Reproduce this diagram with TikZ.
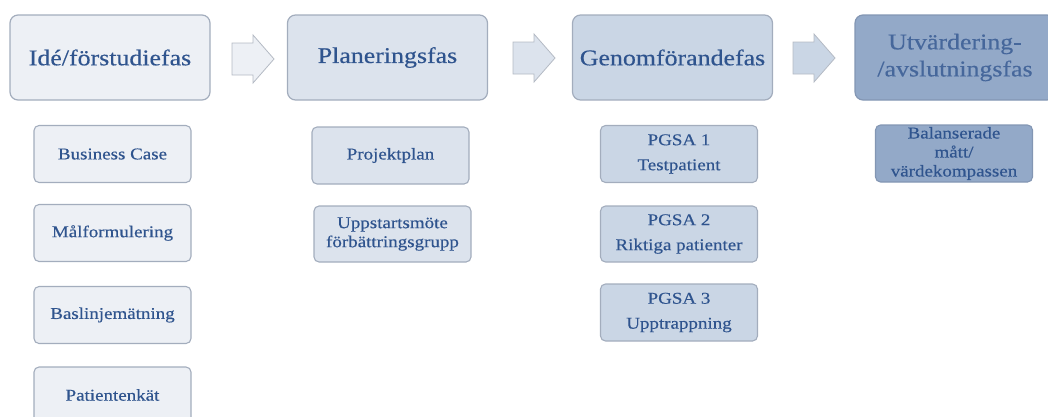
\documentclass[tikz,border=0pt]{standalone}
\usepackage{fontspec}
\setmainfont{Liberation Serif}[FakeStretch=1.15,FakeBold=0.4]
\definecolor{fillA}{HTML}{EDF0F5}
\definecolor{fillB}{HTML}{DCE3ED}
\definecolor{fillC}{HTML}{CAD6E5}
\definecolor{fillD}{HTML}{93A9C8}
\definecolor{edgeC}{HTML}{A3ADBD}
\definecolor{edgeD}{HTML}{8396B3}
\definecolor{txt}{HTML}{2F548E}
\definecolor{txtD}{HTML}{46679B}
\definecolor{arrowedge}{HTML}{B4BAC4}
\begin{document}
\begin{tikzpicture}[x=1pt,y=-1pt,
  mainbox/.style={draw=edgeC, line width=1.2pt, rounded corners=8pt, minimum width=200pt, minimum height=85pt,
    inner sep=0pt, outer sep=0pt, align=center, text=txt, font=\fontsize{22.5}{27}\selectfont},
  subbox/.style={draw=edgeC, line width=1.1pt, rounded corners=5pt, minimum width=157pt, minimum height=57pt,
    inner sep=0pt, outer sep=0pt, align=center, text=txt, font=\fontsize{16.5}{19}\selectfont},
  blockarrow/.style={draw=arrowedge, line width=0.8pt, line join=miter}
]
\useasboundingbox (0,0) rectangle (1048,416);
% main phases
\node[mainbox, fill=fillA] (b1) at (110,57.5) {Idé/förstudiefas};
\node[mainbox, fill=fillB] (b2) at (387.5,57.5) {Planeringsfas};
\node[mainbox, fill=fillC] (b3) at (672.5,57.5) {Genomförandefas};
\node[mainbox, fill=fillD, draw=edgeD, text=txtD] (b4) at (955,57.5) {Utvärdering-\\/avslutningsfas};
% block arrows
\coordinate (a1) at (232,59);
\coordinate (a2) at (513,58);
\coordinate (a3) at (793,58);
\foreach \a/\f in {a1/fillA, a2/fillB, a3/fillC}{
  \draw[blockarrow, fill=\f] (\a) ++(0,-16) -- ++(21,0) -- ++(0,-8) -- ++(21,24) -- ++(-21,24) -- ++(0,-8) -- ++(-21,0) -- cycle;
}
% column 1
\node[subbox, fill=fillA] (s11) at (112.5,154) {Business Case};
\node[subbox, fill=fillA] (s12) at (112.5,233) {Målformulering};
\node[subbox, fill=fillA] (s13) at (112.5,315) {Baslinjemätning};
\node[subbox, fill=fillA, anchor=north] (s14) at (112.5,367) {\rule{0pt}{0pt}};
\node[text=txt, font=\fontsize{16.5}{19}\selectfont] (t14) at (112.5,395) {Patientenkät};
% column 2
\node[subbox, fill=fillB] (s21) at (390.5,155.5) {Projektplan};
\node[subbox, fill=fillB, minimum height=56pt] (s22) at (392.5,234) {Uppstartsmöte\\förbättringsgrupp};
% column 3
\node[subbox, fill=fillC, font=\fontsize{16.5}{25}\selectfont] (s31) at (679,154) {PGSA 1\\Testpatient};
\node[subbox, fill=fillC, font=\fontsize{16.5}{25}\selectfont, minimum height=56pt] (s32) at (679,234) {PGSA 2\\Riktiga patienter};
\node[subbox, fill=fillC, font=\fontsize{16.5}{25}\selectfont] (s33) at (679,312.5) {PGSA 3\\Upptrappning};
% column 4
\node[subbox, fill=fillD, draw=edgeD, minimum height=57pt] (s41) at (954,153.5) {Balanserade\\mått/\\värdekompassen};
\end{tikzpicture}
\end{document}
